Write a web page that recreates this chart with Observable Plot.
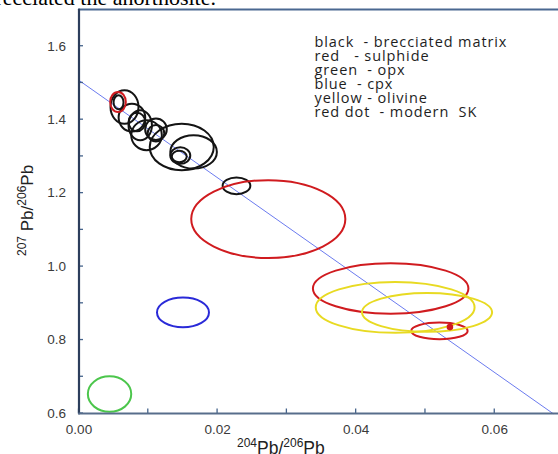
<!DOCTYPE html>
<html><head><meta charset="utf-8">
<script src="https://cdn.jsdelivr.net/npm/d3@7"></script>
<script src="https://cdn.jsdelivr.net/npm/@observablehq/plot@0.6"></script>
<style>
body{margin:0;background:#fff;position:relative;width:558px;height:454px;overflow:hidden}
#cap{position:absolute;left:0;top:0;width:216px;height:8px;overflow:hidden;display:flex;justify-content:flex-end;font-family:"Liberation Serif","Times New Roman",serif;font-size:22px;line-height:22px;color:#000;z-index:2}
#cap span{white-space:nowrap;position:relative;top:-13.5px}
#chart svg text{white-space:pre}
#chart svg g[aria-label="text"] text{letter-spacing:0.9px}
</style></head><body>
<div id="cap"><span>fragments that brecciated the anorthosite.</span></div>
<div id="chart"></div>
<script>
// ---- data ----
const xDomain = [0, 0.0692];
const yDomain = [0.6, 1.7];
const xTicks = [0, 0.01, 0.02, 0.03, 0.04, 0.05, 0.06];
const xLabelTicks = [0, 0.02, 0.04, 0.06];
const yTicks = [0.6, 0.7, 0.8, 0.9, 1.0, 1.1, 1.2, 1.3, 1.4, 1.5, 1.6];
const yLabelTicks = [0.6, 0.8, 1.0, 1.2, 1.4, 1.6];

const groupNames = ["brecciated matrix", "sulphide", "olivine", "cpx", "opx"];
const groupColors = ["#141414", "#d01b1f", "#e8da22", "#2a2ad8", "#4cc64c"];

const ellipseGroup = ["brecciated matrix","brecciated matrix","brecciated matrix","brecciated matrix","brecciated matrix",
  "brecciated matrix","brecciated matrix","brecciated matrix","brecciated matrix","brecciated matrix","brecciated matrix",
  "brecciated matrix","brecciated matrix",
  "sulphide","sulphide","sulphide","sulphide","olivine","olivine","cpx","opx"];
const ellipseX  = [0.00578,0.00664,0.00771,0.00843,0.00891,0.00982,0.01118,0.01118,0.0149,0.01661,0.01469,0.01454,0.0228,
  0.0057,0.02739,0.04505,0.05209,0.0457,0.0503,0.01508,0.00448];
const ellipseY  = [1.4459,1.4332,1.4043,1.3924,1.3834,1.3563,1.3726,1.3617,1.3245,1.3109,1.301,1.2983,1.2185,
  1.4467,1.128,0.9391,0.8236,0.8875,0.874,0.8739,0.6516];
const ellipseRx = [0.00072,0.00202,0.00192,0.0012,0.00169,0.00221,0.00156,0.0012,0.00462,0.00336,0.00144,0.00108,0.002,
  0.00113,0.01112,0.01122,0.00407,0.01146,0.00939,0.00375,0.00313];
const ellipseRy = [0.019,0.0454,0.038,0.0253,0.0408,0.0408,0.0293,0.0226,0.0633,0.0454,0.0226,0.0158,0.0226,
  0.0272,0.106,0.0688,0.0226,0.0693,0.053,0.0403,0.0484];

const skDotX = [0.05353];
const skDotY = [0.8353];

const refLineX = [0, 0.0684];
const refLineY = [1.507, 0.6];

const legendLines = ["black  - brecciated matrix", "red   - sulphide", "green  - opx", "blue  - cpx", "yellow - olivine", "red dot  - modern  SK"];

// ---- tables ----
const ellipses = ellipseX.map((x, i) => ({x, y: ellipseY[i], rx: ellipseRx[i], ry: ellipseRy[i], group: ellipseGroup[i]}));
const skDot = skDotX.map((x, i) => ({x, y: skDotY[i]}));
const refLine = refLineX.map((x, i) => ({x, y: refLineY[i]}));
const topEdge = [{x: xDomain[0], y: yDomain[1]}, {x: xDomain[1], y: yDomain[1]}];
const leftEdge = [{x: xDomain[0], y: yDomain[1]}, {x: xDomain[0], y: yDomain[0]}];
const bottomEdge = [{x: xDomain[0], y: yDomain[0]}, {x: xDomain[1], y: yDomain[0]}];

function ellipseRender(index, scales) {
  const g = d3.create("svg:g");
  for (const i of index) {
    const d = ellipses[i];
    const cx = scales.x(d.x), cy = scales.y(d.y);
    const rx = Math.abs(scales.x(d.x + d.rx) - cx);
    const ry = Math.abs(scales.y(d.y + d.ry) - cy);
    g.append("ellipse")
      .attr("cx", cx).attr("cy", cy).attr("rx", rx).attr("ry", ry)
      .attr("fill", "none")
      .attr("stroke", scales.color(d.group))
      .attr("stroke-width", 2);
  }
  // inward axis ticks
  const bx = scales.y(yDomain[0]), lx = scales.x(xDomain[0]);
  for (const t of xTicks) {
    g.append("rect").attr("x", scales.x(t) - 0.65).attr("y", bx - 4.5).attr("width", 1.3).attr("height", 4.5).attr("fill", "#46648c");
  }
  for (const t of yTicks) {
    g.append("rect").attr("x", lx).attr("y", scales.y(t) - 0.65).attr("width", 4.5).attr("height", 1.3).attr("fill", "#46648c");
  }
  return g.node();
}

const plot = Plot.plot({
  width: 558,
  height: 454,
  marginLeft: 78.5,
  marginRight: 0,
  marginTop: 9,
  marginBottom: 41,
  style: {fontFamily: "'Liberation Sans', Arial, sans-serif", color: "#333", background: "#fff"},
  x: {domain: xDomain, axis: null},
  y: {domain: yDomain, axis: null},
  color: {type: "ordinal", domain: groupNames, range: groupColors},
  marks: [
    Plot.line(refLine, {x: "x", y: "y", stroke: "#6b7bef", strokeWidth: 1}),
    Plot.dot(ellipses, {x: "x", y: "y", stroke: "group", render: ellipseRender}),
    Plot.dot(skDot, {x: "x", y: "y", r: 3.3, fill: "#d01b1f", stroke: "none"}),
    Plot.line(topEdge, {x: "x", y: "y", stroke: "#4a6891", strokeWidth: 2.2}),
    Plot.line(leftEdge, {x: "x", y: "y", stroke: "#2c3e5c", strokeWidth: 2.2}),
    Plot.line(bottomEdge, {x: "x", y: "y", stroke: "#556b8a", strokeWidth: 2.2, strokeOpacity: 0.99}),
    Plot.axisX(xLabelTicks, {anchor: "bottom", label: null, tickSize: 0, tickPadding: 11, tickFormat: d3.format(".2f"), fontSize: 13.5, fill: "#3a3a3a"}),
    Plot.axisY(yLabelTicks, {anchor: "left", label: null, tickSize: 0, tickPadding: 13, tickFormat: d3.format(".1f"), fontSize: 13.5, fill: "#3a3a3a"}),
    Plot.text([legendLines.join("\n")], {frameAnchor: "top-left", dx: 235.5, dy: 27, textAnchor: "start", lineAnchor: "top", lineHeight: 0.97, fontSize: 14.5, fontFamily: "'Open Sans', 'Noto Sans', sans-serif", fill: "#1e1e1e"})
  ]
});

const svg = d3.select(plot);
// x-axis title with superscripts
const xt = svg.append("text").attr("x", 237).attr("y", 454).attr("text-anchor", "start")
  .attr("font-family", "'Liberation Sans', Arial, sans-serif").attr("font-size", 17.5).attr("fill", "#222");
xt.append("tspan").attr("font-size", 12).attr("dy", -7).text("204");
xt.append("tspan").attr("dy", 7).text("Pb/");
xt.append("tspan").attr("font-size", 12).attr("dy", -7).text("206");
xt.append("tspan").attr("dy", 7).text("Pb");
// y-axis title with superscripts
const yt = svg.append("text").attr("transform", "translate(33,256) rotate(-90)").attr("text-anchor", "start")
  .attr("font-family", "'Liberation Sans', Arial, sans-serif").attr("font-size", 17).attr("fill", "#222");
yt.append("tspan").attr("font-size", 12).attr("dy", -7).text("207");
yt.append("tspan").attr("dy", 7).text(" Pb/");
yt.append("tspan").attr("font-size", 12).attr("dy", -7).text("206");
yt.append("tspan").attr("dy", 7).text("Pb");

document.getElementById("chart").appendChild(plot);
</script></body></html>
